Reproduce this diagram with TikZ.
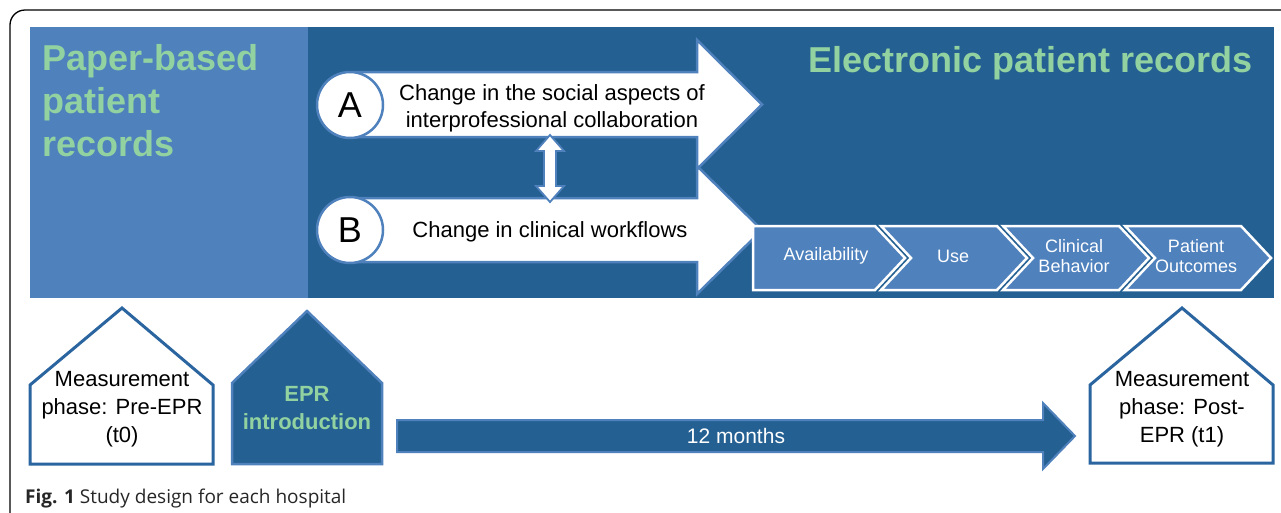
\documentclass[tikz,border=0pt]{standalone}
\usepackage{fontspec}
\setmainfont{Liberation Sans}
\newfontfamily\capfont{Open Sans}
\definecolor{lightblue}{RGB}{79,129,189}
\definecolor{darkblue}{RGB}{37,96,146}
\definecolor{houseline}{RGB}{43,101,160}
\definecolor{greentxt}{RGB}{146,210,160}
\tikzset{
  bigtitle/.style={text=greentxt,font={\fontsize{36}{43}\selectfont\bfseries},align=left,inner sep=0pt},
  bodytxt/.style={text=black,font={\fontsize{22}{27}\selectfont},align=center,inner sep=0pt},
  housetxt/.style={text=black,font={\fontsize{22}{28}\selectfont},align=center,inner sep=0pt},
  chevtxt/.style={text=white,font={\fontsize{18}{20}\selectfont},align=center,inner sep=0pt},
  bigarrow/.style={fill=white,draw=lightblue,line width=2.5pt,line join=miter},
  chev/.style={fill=lightblue,draw=white,line width=2.5pt,line join=miter},
  whitehouse/.style={fill=white,draw=houseline,line width=3pt,line join=miter},
  darkhouse/.style={fill=darkblue,draw=lightblue,line width=2.5pt,line join=miter},
  letterc/.style={circle,fill=white,draw=lightblue,line width=2.5pt,minimum size=66pt,inner sep=0pt,font={\fontsize{36}{36}\selectfont}},
}
\begin{document}
\begin{tikzpicture}[x=1pt,y=-1pt]
\useasboundingbox (0,0) rectangle (1281,512);
% outer frame
\draw[black,line width=1.3pt,rounded corners=15pt] (10,530) -- (10,10) -- (1300,10);
% panels
\fill[lightblue] (30,27) rectangle (308,298);
\fill[darkblue] (308,27) rectangle (1274,298);
\node[bigtitle,anchor=north west] (paper) at (42,44) {Paper-based\\patient\\records};
\node[bigtitle,anchor=north east] (elec) at (1253,46) {Electronic patient records};
% arrow B
\draw[bigarrow] (355,198) -- (697,198) -- (697,166) -- (762,230) -- (697,294) -- (697,262) -- (355,262) -- cycle;
% arrow A
\draw[bigarrow] (355,72) -- (697,72) -- (697,40) -- (762,104.5) -- (697,169) -- (697,137) -- (355,137) -- cycle;
\node[letterc] (A) at (350,105) {A};
\node[letterc] (B) at (350,230) {B};
\node[bodytxt] (atxt) at (552,108) {Change in the social aspects of\\interprofessional collaboration};
\node[bodytxt] (btxt) at (550,232) {Change in clinical workflows};
% double arrow
\draw[fill=white,draw=lightblue,line width=1.8pt,line join=miter]
  (550,135) -- (564,151) -- (556,151) -- (556,186) -- (564,186) -- (550,202) -- (536,186) -- (544,186) -- (544,151) -- (536,151) -- cycle;
% chevrons
\draw[chev] (753,226) -- (875,226) -- (905,258) -- (875,290) -- (753,290) -- cycle;
\draw[chev] (881,226) -- (997,226) -- (1027,258) -- (997,290) -- (881,290) -- (911,258) -- cycle;
\draw[chev] (1003,226) -- (1119,226) -- (1149,258) -- (1119,290) -- (1003,290) -- (1033,258) -- cycle;
\draw[chev] (1125,226) -- (1241,226) -- (1271,258) -- (1241,290) -- (1125,290) -- (1155,258) -- cycle;
\node[chevtxt] (c1) at (826,256) {Availability};
\node[chevtxt] (c2) at (953,256) {Use};
\node[chevtxt] (c3) at (1074,256) {Clinical\\Behavior};
\node[chevtxt] (c4) at (1196,256) {Patient\\Outcomes};
% houses
\draw[whitehouse] (30,464) -- (30,385) -- (122,308) -- (213,385) -- (213,464) -- cycle;
\node[housetxt] (pre) at (122,409) {Measurement\\phase: Pre-EPR\\(t0)};
\draw[darkhouse] (232,464) -- (232,383) -- (307,311) -- (382,383) -- (382,464) -- cycle;
\node[text=greentxt,font={\fontsize{22}{28}\selectfont\bfseries},align=center,inner sep=0pt] (intro) at (307,408) {EPR\\introduction};
\draw[whitehouse] (1090,463) -- (1090,385) -- (1182,308) -- (1273,385) -- (1273,463) -- cycle;
\node[housetxt] (post) at (1182,409) {Measurement\\phase: Post-\\EPR (t1)};
% 12 months arrow
\draw[darkhouse,line width=2pt] (397,420) -- (1043,420) -- (1043,403) -- (1075,436) -- (1043,469) -- (1043,452) -- (397,452) -- cycle;
\node[text=white,font={\fontsize{21}{24}\selectfont},inner sep=0pt] (months) at (736,436) {12 months};
% caption
\node[anchor=base west,inner sep=0pt,font={\capfont\fontsize{19}{22}\selectfont},text=black!85] (cap) at (25,503) {\textbf{Fig. 1} Study design for each hospital};
\end{tikzpicture}
\end{document}
